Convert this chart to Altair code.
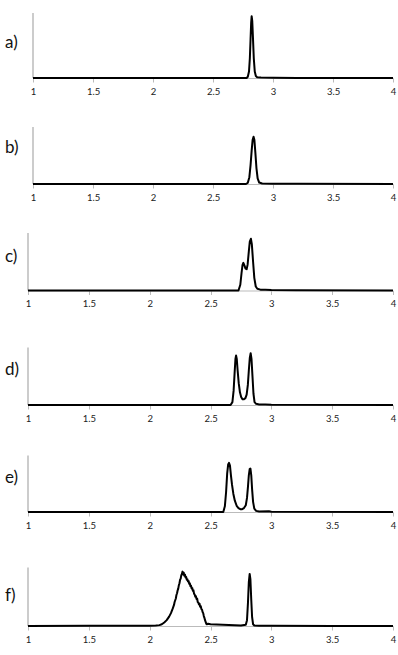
import altair as alt
import pandas as pd

panel_labels = ["a)", "b)", "c)", "d)", "e)", "f)"]
tick_values = [1, 1.5, 2, 2.5, 3, 3.5, 4]

a_x = [1.0, 2.5, 2.78, 2.79, 2.8, 2.807, 2.813, 2.818, 2.822, 2.827, 2.833, 2.84, 2.848, 2.857, 2.868, 2.9, 3.0, 3.2, 4.0]
a_y = [0, 0, 0, 0.02, 0.1, 0.3, 0.6, 0.85, 0.95, 0.88, 0.62, 0.3, 0.1, 0.03, 0.012, 0.008, 0.004, 0, 0]

b_x = [1.0, 2.5, 2.775, 2.79, 2.803, 2.813, 2.822, 2.83, 2.838, 2.845, 2.853, 2.862, 2.872, 2.885, 2.91, 3.0, 3.2, 4.0]
b_y = [0, 0, 0, 0.02, 0.12, 0.33, 0.58, 0.77, 0.83, 0.77, 0.55, 0.28, 0.1, 0.025, 0.01, 0.006, 0.003, 0]

c_x = [1.0, 2.5, 2.73, 2.745, 2.755, 2.763, 2.77, 2.778, 2.788, 2.797,
       2.805, 2.815, 2.823, 2.832, 2.84, 2.85, 2.86, 2.872, 2.885, 2.91,
       2.95, 3.0, 3.2, 4.0]
c_y = [0, 0, 0, 0.1, 0.3, 0.44, 0.48, 0.44, 0.38, 0.37,
       0.45, 0.68, 0.85, 0.9, 0.8, 0.5, 0.22, 0.07, 0.03, 0.015,
       0.012, 0.008, 0.003, 0]

d_x = [1.0, 2.5, 2.665, 2.68, 2.69, 2.698, 2.705, 2.71, 2.716, 2.723,
       2.732, 2.742, 2.752, 2.763, 2.775, 2.787, 2.797, 2.807, 2.815, 2.823,
       2.83, 2.837, 2.845, 2.853, 2.862, 2.875, 2.9, 2.95, 3.0, 4.0]
d_y = [0, 0, 0, 0.05, 0.25, 0.55, 0.8, 0.86, 0.8, 0.6,
       0.38, 0.22, 0.14, 0.1, 0.1, 0.12, 0.18, 0.35, 0.6, 0.82,
       0.9, 0.8, 0.5, 0.2, 0.05, 0.02, 0.01, 0.01, 0.005, 0]

e_x = [1.0, 2.5, 2.605, 2.618, 2.628, 2.637, 2.645, 2.652, 2.66, 2.668,
       2.677, 2.688, 2.7, 2.715, 2.73, 2.745, 2.76, 2.775, 2.79, 2.8,
       2.808, 2.815, 2.822, 2.828, 2.835, 2.842, 2.85, 2.86, 2.875, 2.9,
       2.98, 3.0, 4.0]
e_y = [0, 0, 0, 0.1, 0.35, 0.68, 0.84, 0.87, 0.82, 0.65,
       0.48, 0.32, 0.2, 0.11, 0.07, 0.05, 0.05, 0.07, 0.12, 0.25,
       0.45, 0.65, 0.76, 0.77, 0.65, 0.4, 0.18, 0.06, 0.02, 0.01,
       0.015, 0.005, 0]

f_x = [1.0, 1.5, 2.0, 2.05, 2.08, 2.1, 2.12, 2.14, 2.16, 2.175,
       2.19, 2.2, 2.205, 2.21, 2.215, 2.22, 2.225, 2.23, 2.235, 2.24,
       2.245, 2.25, 2.255, 2.26, 2.265, 2.27, 2.275, 2.28, 2.285, 2.29,
       2.295, 2.3, 2.305, 2.31, 2.315, 2.32, 2.325, 2.33, 2.335, 2.34,
       2.345, 2.35, 2.355, 2.36, 2.365, 2.37, 2.375, 2.38, 2.385, 2.39,
       2.395, 2.4, 2.405, 2.41, 2.415, 2.42, 2.425, 2.43, 2.435, 2.44,
       2.445, 2.45, 2.455, 2.46, 2.465, 2.47, 2.48, 2.5, 2.55, 2.6,
       2.65, 2.7, 2.75, 2.79, 2.8, 2.808, 2.815, 2.822, 2.828, 2.835,
       2.842, 2.85, 2.86, 2.9, 3.0, 3.5, 4.0]
f_y = [0.0, 0.005, 0.005, 0.01, 0.015, 0.03, 0.06, 0.1, 0.16, 0.22,
       0.3, 0.36, 0.41, 0.44, 0.47, 0.53, 0.56, 0.61, 0.64, 0.70,
       0.73, 0.79, 0.81, 0.87, 0.89, 0.93, 0.88, 0.91, 0.86, 0.88,
       0.83, 0.84, 0.79, 0.80, 0.76, 0.77, 0.72, 0.73, 0.68, 0.69,
       0.64, 0.65, 0.60, 0.61, 0.55, 0.54, 0.50, 0.51, 0.46, 0.47,
       0.41, 0.40, 0.37, 0.38, 0.33, 0.34, 0.29, 0.28, 0.24, 0.22,
       0.17, 0.14, 0.10, 0.07, 0.04, 0.03, 0.04, 0.03, 0.025, 0.02,
       0.015, 0.012, 0.01, 0.02, 0.1, 0.4, 0.75, 0.89, 0.8, 0.45,
       0.15, 0.03, 0.01, 0.005, 0.003, 0.0, 0.0]

series = [(a_x, a_y), (b_x, b_y), (c_x, c_y), (d_x, d_y), (e_x, e_y), (f_x, f_y)]

# layout (pixels, absolute page coordinates)
plot_top = [13, 127, 233, 347, 455, 567]
baseline = [78, 184, 290.5, 404.5, 511.5, 625.5]
label_y = [43, 148, 257, 369, 477, 595]
x_start = [5, 5, 0, 0, 0, 0]
W = 365
LEFT = 28


def panel(i):
    xs, ys = series[i]
    g_top = 0 if i == 0 else baseline[i - 1]
    H = baseline[i] - g_top
    df = pd.DataFrame({"x": xs, "y": ys})
    xscale = alt.Scale(domain=[1, 4], range=[x_start[i], W], nice=False, zero=False)
    yscale = alt.Scale(domain=[0, 1], range=[H, plot_top[i] - g_top], nice=False)
    xaxis = alt.Axis(values=tick_values, format="~g", title=None, grid=False,
                     domainColor="#bbbbbb", domainWidth=1, tickColor="#bbbbbb",
                     tickSize=4, labelPadding=4, labelFont="Lato", labelFontSize=9.5,
                     labelColor="#222222", labelFlush=False)
    one = pd.DataFrame({"label": [panel_labels[i]]})
    yline = alt.Chart(one).mark_rule(color="#999999", strokeWidth=1).encode(
        x=alt.datum(1, scale=xscale, axis=xaxis, type="quantitative"),
        y=alt.datum(0, scale=yscale, axis=None, type="quantitative"),
        y2=alt.datum(1),
    )
    line = alt.Chart(df).mark_line(color="black", strokeWidth=2, strokeJoin="round").encode(
        x=alt.X("x:Q", scale=xscale, axis=xaxis),
        y=alt.Y("y:Q", scale=yscale, axis=None),
    )
    lab = alt.Chart(one).mark_text(align="left", baseline="middle", font="Lato",
                                   fontSize=17, color="#111111").encode(
        x=alt.value(5 - LEFT),
        y=alt.value(label_y[i] - g_top),
        text="label:N",
    )
    return alt.layer(yline, line, lab).properties(width=W, height=H)


chart = alt.vconcat(*[panel(i) for i in range(6)], spacing=0, bounds="flush").resolve_scale(
    x="independent", y="independent"
).properties(
    padding={"left": 5, "top": 0, "right": 2, "bottom": 5},
).configure_view(stroke=None)

chart.save("out.html", embed_options={"renderer": "svg", "actions": False})
